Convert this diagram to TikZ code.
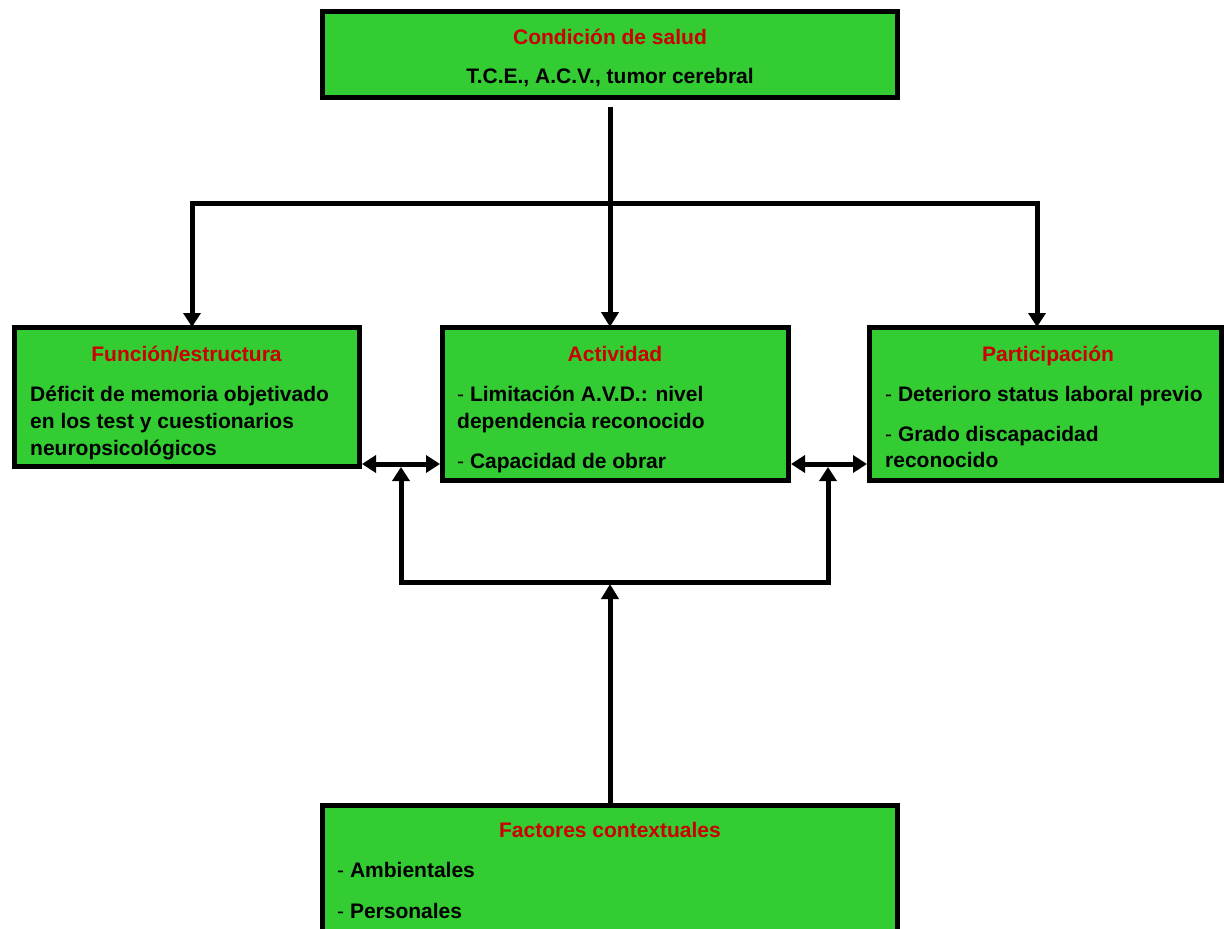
\documentclass[tikz,border=0pt]{standalone}
\usepackage{fontspec}
\setmainfont{Liberation Sans}
\usetikzlibrary{arrows.meta}
\definecolor{boxgreen}{RGB}{51,204,51}
\definecolor{titlered}{RGB}{204,0,0}
\begin{document}
\begin{tikzpicture}[x=1pt,y=-1pt,
  panel/.style={draw=black, fill=boxgreen, line width=5pt, inner sep=0pt},
  heading/.style={anchor=base, inner sep=0pt, text=titlered, font=\fontsize{21}{27}\selectfont\bfseries},
  body/.style={anchor=base west, inner sep=0pt, font=\fontsize{21}{27}\selectfont\bfseries},
  centred/.style={anchor=base, inner sep=0pt, font=\fontsize{21}{27}\selectfont\bfseries},
  link/.style={line width=5pt, line join=miter},
  onetip/.style={-{Triangle[length=15pt,width=17pt]}},
  twotips/.style={{Triangle[length=14pt,width=17pt]}-{Triangle[length=14pt,width=17pt]}}
]
\clip (0,0) rectangle (1224,929);

% boxes
\node[panel, minimum width=575pt, minimum height=86pt] (salud) at (610,54.5) {};
\node[panel, minimum width=345pt, minimum height=139pt] (func) at (187,397) {};
\node[panel, minimum width=346pt, minimum height=153pt] (act) at (615.5,404) {};
\node[panel, minimum width=352pt, minimum height=153pt] (part) at (1045.5,404) {};
\node[panel, minimum width=575pt, minimum height=150pt] (ctx) at (610,880.5) {};

% health condition
\node[heading] (saludT) at (610,44) {Condición de salud};
\node[centred] (saludB) at (610,83) {T.C.E., A.C.V., tumor cerebral};

% body function / structure
\node[heading] (funcT) at (186.5,361) {Función/estructura};
\node[body] (funcA) at (30,401) {Déficit de memoria objetivado};
\node[body] (funcB) at (30,428) {en los test y cuestionarios};
\node[body] (funcC) at (30,455) {neuropsicológicos};

% activity
\node[heading] (actT) at (615,361) {Actividad};
\node[body] (actA) at (457,401) {\textmd{-} Limitación A.V.D.: nivel};
\node[body] (actB) at (457,428) {dependencia reconocido};
\node[body] (actC) at (457,468) {\textmd{-} Capacidad de obrar};

% participation
\node[heading] (partT) at (1048,361) {Participación};
\node[body] (partA) at (885,401) {\textmd{-} Deterioro status laboral previo};
\node[body] (partB) at (885,441) {\textmd{-} Grado discapacidad};
\node[body] (partC) at (885,467) {reconocido};

% contextual factors
\node[heading] (ctxT) at (610,837) {Factores contextuales};
\node[body] (ctxA) at (337,877) {\textmd{-} Ambientales};
\node[body] (ctxB) at (337,918) {\textmd{-} Personales};

% junction points of the connectors
\coordinate (stem) at (610,107);
\coordinate (bl) at (192,203);
\coordinate (br) at (1037,203);
\coordinate (m1) at (401,464);
\coordinate (m2) at (828,464);
\coordinate (u1) at (401,467);
\coordinate (u2) at (828,467);
\coordinate (f1) at (401,582);
\coordinate (f2) at (828,582);
\coordinate (f0) at (610,584);

% connectors from the health condition
\draw[link,onetip] (stem) -- ([yshift=-2pt]stem |- act.north);
\draw[link,twotips] ([yshift=-2pt]bl |- func.north) -- (bl) -- (br) -- ([yshift=-2pt]br |- part.north);

% links between the three components
\draw[link,twotips] (m1 -| func.east) -- (m1 -| act.west);
\draw[link,twotips] (m2 -| act.east) -- (m2 -| part.west);

% contextual factors feeding the links
\draw[link,twotips] (u1) -- (f1) -- (f2) -- (u2);
\draw[link,onetip] (ctx.north -| f0) -- (f0);
\end{tikzpicture}
\end{document}
